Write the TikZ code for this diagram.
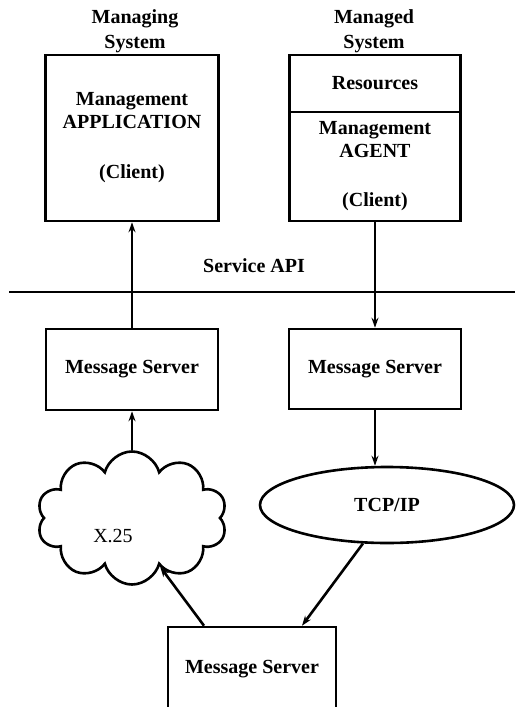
\documentclass[tikz,border=0pt]{standalone}
\usepackage{fontspec}
\setmainfont{Liberation Serif}
\usetikzlibrary{arrows.meta,shapes.geometric,shapes.symbols}

\begin{document}
\begin{tikzpicture}[x=1pt, y=-1pt, line width=2.6pt, >={Stealth[length=10pt,width=7pt]},
    txt/.style={font=\fontsize{20}{23}\selectfont\bfseries, align=center},
    box/.style={txt, draw, rectangle, inner sep=0pt}]
    \useasboundingbox (0,0) rectangle (515,707);

    \node[txt] (mgr) at (135,31) {Managing\\[2pt]System};
    \node[txt] (mgd) at (374,31) {Managed\\[2pt]System};

    \node[box, minimum width=173pt, minimum height=166pt] (app) at (132,138)
        {Management\\APPLICATION\\[27pt](Client)};
    \node[box, minimum width=171pt, minimum height=57pt] (res) at (375,83.5) {Resources};
    \node[box, minimum width=171pt, minimum height=109pt] (agent) at (375,166.5)
        {Management\\AGENT\\[26pt](Client)};

    \node[txt] (api) at (254,266) {Service API};
    \coordinate (busL) at (9,292);
    \coordinate (busR) at (515,292);
    \draw (busL) -- (busR);

    \node[box, minimum width=172pt, minimum height=81pt] (msl) at (132,369.5) {Message Server};
    \node[box, minimum width=172pt, minimum height=80pt] (msr) at (375,369) {Message Server};

    \node[cloud, draw, cloud puffs=10, cloud puff arc=150, minimum width=190pt,
        minimum height=133pt] (x25) at (132,518) {};
    \node[font=\fontsize{20}{23}\selectfont] (x25t) at (113,536) {X.25};
    \node[txt, ellipse, draw, inner sep=0pt, minimum width=254pt, minimum height=76pt]
        (tcp) at (387,505) {TCP/IP};

    \node[box, minimum width=168pt, minimum height=85pt] (msb) at (252,669.5) {Message Server};

    \draw[->] (msl) -- (app);
    \draw[->] (agent) -- (msr);
    \draw[->] (x25) -- (msl);
    \draw[->] (msr.south) -- (msr.south |- tcp.north);
    \draw[->] (tcp.238) -- ([xshift=50pt]msb.north);
    \draw[->] ([xshift=-48pt]msb.north) -- (x25.300);
\end{tikzpicture}
\end{document}
